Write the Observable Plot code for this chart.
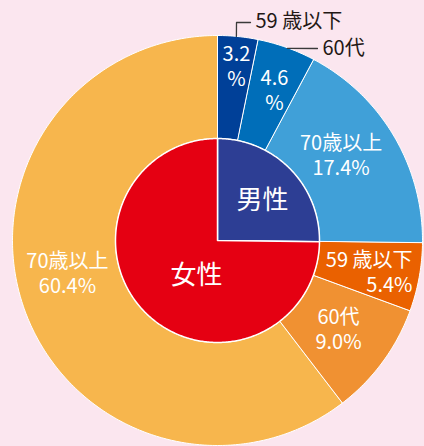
<!DOCTYPE html>
<html><head><meta charset="utf-8">
<script src="https://cdn.jsdelivr.net/npm/d3@7"></script>
<script src="https://cdn.jsdelivr.net/npm/@observablehq/plot@0.6"></script>
<style>
html,body{margin:0;padding:0;background:#fbe6ef;}
#chart svg{display:block}
</style></head><body><div id="chart"></div>
<script>
// ---- data ----
const genders = ["男性", "女性"];
const genderShares = [25.2, 74.8];
const ageGroups = ["59 歳以下", "60代", "70歳以上"];
const maleShares = [3.2, 4.6, 17.4];
const femaleShares = [5.4, 9.0, 60.4];

// ---- styles ----
const innerColors = ["#2d3e94", "#e50012"];
const maleColors = ["#004098", "#006eb9", "#40a0d8"];
const femaleColors = ["#ea6100", "#f09132", "#f7b64d"];
const FONT = "'Noto Sans CJK JP', 'Noto Sans', sans-serif";

const W = 424, H = 446, CX = 217, CY = 240, R = 205, R_IN = 102 / 205;

// polar "projection": x = cumulative percent (0-100, clockwise from 12 o'clock), y = radius fraction
const polar = d3.geoTransform({
  point(p, r) {
    const a = p / 100 * 2 * Math.PI;
    this.stream.point(CX + R * r * Math.sin(a), CY - R * r * Math.cos(a));
  }
});

function sector(a0, a1, r0, r1, props) {
  const n = Math.max(2, Math.ceil((a1 - a0) / 0.2));
  const ring = [];
  for (let i = 0; i <= n; i++) ring.push([a0 + (a1 - a0) * i / n, r1]);
  for (let i = n; i >= 0; i--) ring.push([a0 + (a1 - a0) * i / n, r0]);
  ring.push(ring[0]);
  return {type: "Feature", properties: props, geometry: {type: "Polygon", coordinates: [ring]}};
}

// inner pie
const inner = [];
let acc = 0;
genderShares.forEach((v, i) => {
  inner.push(sector(acc, acc + v, 0, R_IN, {color: innerColors[i], name: genders[i]}));
  acc += v;
});

// outer ring
const outer = [];
acc = 0;
maleShares.forEach((v, i) => {
  outer.push(sector(acc, acc + v, R_IN, 1, {color: maleColors[i], start: acc, value: v}));
  acc += v;
});
femaleShares.forEach((v, i) => {
  outer.push(sector(acc, acc + v, R_IN, 1, {color: femaleColors[i], start: acc, value: v}));
  acc += v;
});

const fmt = v => v.toFixed(1);
// label placement (percent angle, radius fraction, anchor)
const labels = [
  {p: 1.72, r: 0.859, anchor: "middle", text: `${fmt(maleShares[0])}\n%`},
  {p: 5.76, r: 0.785, anchor: "middle", text: `${fmt(maleShares[1])}\n%`},
  {p: 15.28, r: 0.7355, anchor: "middle", text: `${ageGroups[2]}\n${fmt(maleShares[2])}%`},
  {p: 27.47, r: 0.963, anchor: "end", text: `${ageGroups[0]}\n${fmt(femaleShares[0])}%`},
  {p: 35.01, r: 0.730, anchor: "middle", text: `${ageGroups[1]}\n${fmt(femaleShares[1])}%`},
  {p: 71.7, r: 0.748, anchor: "middle", text: `${ageGroups[2]}\n${fmt(femaleShares[2])}%`}
];
const genderLabels = [
  {p: 13.45, r: 0.294, text: genders[0]},
  {p: 58.6, r: 0.199, text: genders[1]}
];
const outsideLabels = [
  {p: 2.74, r: 1.082, text: ageGroups[0]},
  {p: 7.98, r: 1.065, text: ageGroups[1]}
];
const leaders = [
  {type: "Feature", properties: {}, geometry: {type: "LineString", coordinates: [[1.47, 1.0], [1.384, 1.0675], [2.391, 1.0755]]}},
  {type: "Feature", properties: {}, geometry: {type: "LineString", coordinates: [[5.56, 0.997], [7.64, 1.056]]}}
];

const chart = Plot.plot({
  width: W, height: H,
  margin: 0,
  projection: polar,
  color: {type: "identity"},
  style: {background: "transparent", overflow: "visible"},
  marks: [
    Plot.geo(outer, {fill: d => d.properties.color, stroke: "white", strokeWidth: 1, ariaLabel: "outer ring"}),
    Plot.geo(inner, {fill: d => d.properties.color, stroke: "white", strokeWidth: 1.5, ariaLabel: "inner pie"}),
    Plot.geo(leaders, {stroke: "#3a3a3a", strokeWidth: 1.3, fill: "none"}),
    ...labels.map(l => Plot.text([l], {x: "p", y: "r", text: "text", textAnchor: l.anchor, fill: "white", fontSize: 20, lineHeight: 1.25, fontFamily: FONT})),
    Plot.text(genderLabels, {x: "p", y: "r", text: "text", fill: "white", fontSize: 26, fontFamily: FONT}),
    Plot.text(outsideLabels, {x: "p", y: "r", text: "text", textAnchor: "start", fill: "#231815", fontSize: 20, fontFamily: FONT})
  ]
});
document.getElementById("chart").appendChild(chart);
const ringG = chart.querySelector('g[aria-label="outer ring"]');
if (ringG) ringG.style.filter = "drop-shadow(3px 4px 2.5px rgba(50,35,45,0.75))";
</script>
</body></html>
